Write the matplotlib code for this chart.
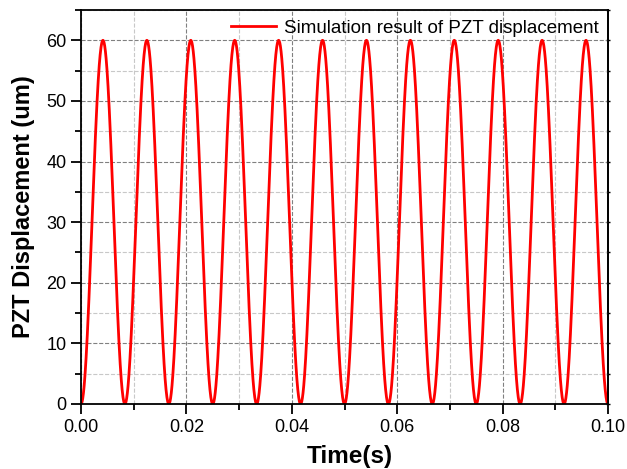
import numpy as np
import matplotlib
matplotlib.use("Agg")
import matplotlib.pyplot as plt
from matplotlib.ticker import MultipleLocator

plt.rcParams['font.family'] = ['Liberation Sans', 'DejaVu Sans']

# simulation parameters
freq_hz = 120.0       # 12 full cycles in 0.1 s
peak_um = 60.0        # stroke 0 .. 60 um
t_end = 0.1
t = np.linspace(0, t_end, 3001)
disp = peak_um / 2 * (1 - np.cos(2 * np.pi * freq_hz * t))

fig = plt.figure(figsize=(6.27, 4.69), dpi=100)
ax = fig.add_axes([81 / 627, 1 - 404 / 469, 527 / 627, 394 / 469])

ax.plot(t, disp, color='red', lw=2, label='Simulation result of PZT displacement')

ax.set_xlim(0, 0.1)
ax.set_ylim(0, 65)
ax.xaxis.set_major_locator(MultipleLocator(0.02))
ax.xaxis.set_minor_locator(MultipleLocator(0.01))
ax.yaxis.set_major_locator(MultipleLocator(10))
ax.yaxis.set_minor_locator(MultipleLocator(5))
ax.xaxis.set_major_formatter(plt.FormatStrFormatter('%.2f'))

ax.grid(which='major', color='#808080', ls='--', lw=0.8)
ax.grid(which='minor', color='#c8c8c8', ls='--', lw=0.8)
ax.set_axisbelow(True)

ax.tick_params(which='both', direction='out', labelsize=13, top=False, right=False)
ax.tick_params(which='major', length=7, width=1.3)
ax.tick_params(which='minor', length=4, width=1.3)
for s in ax.spines.values():
    s.set_linewidth(1.3)

# small marks on the right spine
ay = ax.secondary_yaxis('right')
ay.yaxis.set_major_locator(MultipleLocator(10))
ay.yaxis.set_minor_locator(MultipleLocator(5))
ay.tick_params(which='both', direction='inout', length=3, width=1, labelright=False)
ay.spines['right'].set_linewidth(1.3)

ax.set_xlabel('Time(s)', fontsize=17.5, fontweight='bold')
ax.set_ylabel('PZT Displacement (um)', fontsize=17, fontweight='bold', labelpad=8)
ax.xaxis.set_label_coords(0.51, -0.105)

ax.legend(loc='upper right', frameon=False, fontsize=13.5, handlelength=2.4,
          borderaxespad=0.1, handletextpad=0.4)

fig.savefig('out.png', dpi=100)
